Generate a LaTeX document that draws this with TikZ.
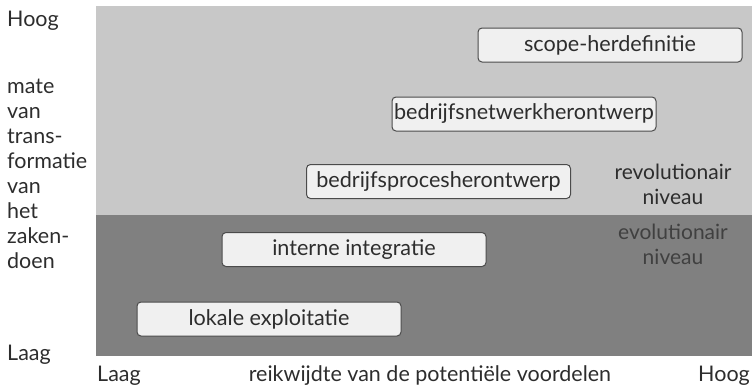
\documentclass[tikz,border=0pt]{standalone}
\usepackage{fontspec}
\setmainfont{Lato}
\definecolor{lightzone}{RGB}{200,200,200}
\definecolor{darkzone}{RGB}{128,128,128}
\definecolor{boxfill}{RGB}{240,240,240}
\definecolor{boxline}{RGB}{75,75,75}
\definecolor{txt}{RGB}{45,45,45}
\begin{document}
\begin{tikzpicture}[x=1pt,y=-1pt,
  stepbox/.style={draw=boxline, fill=boxfill, rounded corners=4pt, line width=1pt,
    minimum width=264pt, minimum height=34pt, inner sep=0pt, text=txt,
    font=\fontsize{21.6}{21.6}\selectfont},
  lbl/.style={text=txt, inner sep=0pt, font=\fontsize{21.5}{21.5}\selectfont},
  zonelbl/.style={text=txt, inner sep=0pt, align=center, font=\fontsize{21}{25}\selectfont}]
\useasboundingbox (0,0) rectangle (752,386);
\fill[lightzone] (96,6) rectangle (752,215);
\fill[darkzone] (96,215) rectangle (752,356);
\node[stepbox] (lok) at (269,319) {lokale exploitatie};
\node[stepbox] (int) at (354,249.5) {interne integratie};
\node[stepbox] (proc) at (438.5,181.5) {bedrijfsprocesherontwerp};
\node[stepbox] (net) at (524,114) {bedrijfsnetwerkherontwerp};
\node[stepbox] (scope) at (610,45) {scope-herdefinitie};
\node[zonelbl, anchor=base] (rev) at (673,204) {revolutionair\\niveau};
\node[zonelbl, anchor=base, text=black!75] (evo) at (673,264) {evolutionair\\niveau};
\node[lbl, anchor=base west] (yhigh) at (7,26) {Hoog};
\node[lbl, anchor=base west, align=left, font=\fontsize{21.5}{25}\selectfont] (ytitle) at (7,268)
  {mate\\van\\trans-\\formatie\\van\\het\\zaken-\\doen};
\node[lbl, anchor=base west] (ylow) at (7,360) {Laag};
\node[lbl, anchor=base west] (xlow) at (97,381) {Laag};
\node[lbl, anchor=base] (xtitle) at (430,381) {reikwijdte van de potentiële voordelen};
\node[lbl, anchor=base east] (xhigh) at (750,381) {Hoog};
\end{tikzpicture}
\end{document}
